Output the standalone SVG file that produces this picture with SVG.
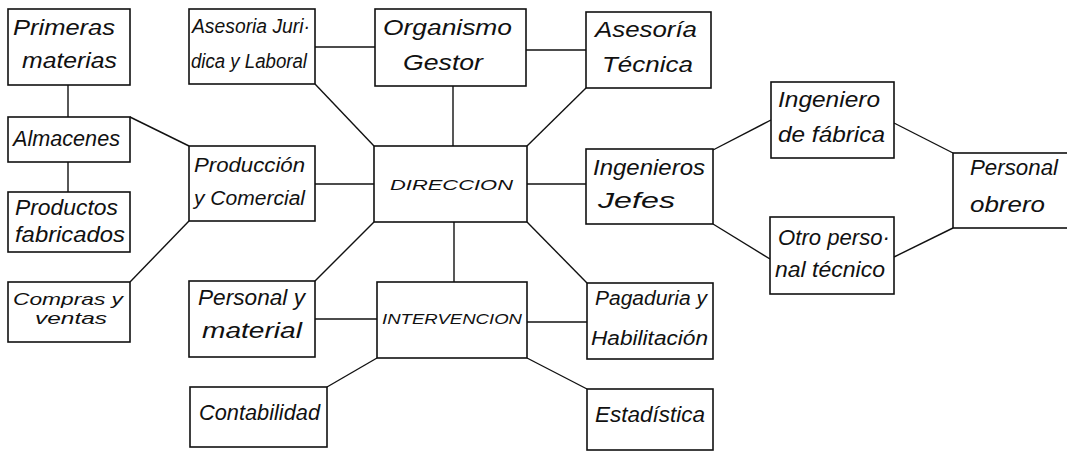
<svg xmlns="http://www.w3.org/2000/svg" width="1067" height="452" viewBox="0 0 1067 452">
<style>
.box{fill:#fff;stroke:#111;stroke-width:1.6}
.ln{fill:none;stroke:#111;stroke-width:1.4}
text{font-family:"Liberation Sans","DejaVu Sans",sans-serif;font-style:italic;fill:#111;font-size:22px}
.s{font-size:20px}
.t{font-size:17px}
.c{font-size:15px}
</style>
<rect width="1067" height="452" fill="#fff"/>
<g id="connectors">
<path class="ln" d="M68,85 V117 M68,162 V192"/>
<path class="ln" d="M130,117 L189,146"/>
<path class="ln" d="M189,221 L130,282"/>
<path class="ln" d="M315,184 H374"/>
<path class="ln" d="M315,47 H375"/>
<path class="ln" d="M526,50 H586"/>
<path class="ln" d="M315,84 L374,146"/>
<path class="ln" d="M586,88 L527,146"/>
<path class="ln" d="M453,86 V146"/>
<path class="ln" d="M527,184 H586"/>
<path class="ln" d="M374,222 L315,281"/>
<path class="ln" d="M527,222 L587,283"/>
<path class="ln" d="M454,222 V282"/>
<path class="ln" d="M315,319 H377"/>
<path class="ln" d="M527,322 H587"/>
<path class="ln" d="M377,358 L327,387"/>
<path class="ln" d="M527,358 L587,389"/>
<path class="ln" d="M713,150 L771,120"/>
<path class="ln" d="M894,123 L953,153"/>
<path class="ln" d="M713,224 L770,259"/>
<path class="ln" d="M894,257 L953,228"/>
</g>
<g id="primeras">
<rect class="box" x="8" y="9" width="122" height="76"/>
<text x="13" y="35" textLength="102" lengthAdjust="spacingAndGlyphs">Primeras</text>
<text x="22" y="68" textLength="95" lengthAdjust="spacingAndGlyphs">materias</text>
</g>
<g id="almacenes">
<rect class="box" x="8" y="117" width="122" height="45"/>
<text x="13" y="146" textLength="107" lengthAdjust="spacingAndGlyphs">Almacenes</text>
</g>
<g id="productos">
<rect class="box" x="8" y="192" width="122" height="60"/>
<text x="15" y="215" textLength="103" lengthAdjust="spacingAndGlyphs">Productos</text>
<text x="15" y="242" textLength="110" lengthAdjust="spacingAndGlyphs">fabricados</text>
</g>
<g id="compras">
<rect class="box" x="8" y="282" width="122" height="60"/>
<text class="t" x="13" y="305" textLength="110" lengthAdjust="spacingAndGlyphs">Compras y</text>
<text class="t" x="35" y="324" textLength="72" lengthAdjust="spacingAndGlyphs">ventas</text>
</g>
<g id="juridica">
<rect class="box" x="189" y="9" width="126" height="75"/>
<text class="s" x="192" y="33" textLength="118" lengthAdjust="spacingAndGlyphs">Asesoria Juri·</text>
<text class="s" x="191" y="68" textLength="116" lengthAdjust="spacingAndGlyphs">dica y Laboral</text>
</g>
<g id="organismo">
<rect class="box" x="375" y="9" width="151" height="77"/>
<text x="383" y="35" textLength="129" lengthAdjust="spacingAndGlyphs">Organismo</text>
<text x="403" y="70" textLength="80" lengthAdjust="spacingAndGlyphs">Gestor</text>
</g>
<g id="tecnica">
<rect class="box" x="586" y="12" width="125" height="76"/>
<text x="595" y="37" textLength="102" lengthAdjust="spacingAndGlyphs">Asesoría</text>
<text x="602" y="72" textLength="91" lengthAdjust="spacingAndGlyphs">Técnica</text>
</g>
<g id="produccion">
<rect class="box" x="189" y="146" width="126" height="75"/>
<text class="s" x="194" y="172" textLength="111" lengthAdjust="spacingAndGlyphs">Producción</text>
<text class="s" x="194" y="205" textLength="111" lengthAdjust="spacingAndGlyphs">y Comercial</text>
</g>
<g id="direccion">
<rect class="box" x="374" y="146" width="153" height="76"/>
<text class="c" x="390" y="190" textLength="123" lengthAdjust="spacingAndGlyphs">DIRECCION</text>
</g>
<g id="ingenieros">
<rect class="box" x="586" y="149" width="127" height="75"/>
<text x="593" y="175" textLength="112" lengthAdjust="spacingAndGlyphs">Ingenieros</text>
<text x="598" y="208" textLength="77" lengthAdjust="spacingAndGlyphs">Jefes</text>
</g>
<g id="fabrica">
<rect class="box" x="771" y="82" width="123" height="76"/>
<text x="778" y="107" textLength="102" lengthAdjust="spacingAndGlyphs">Ingeniero</text>
<text x="778" y="142" textLength="107" lengthAdjust="spacingAndGlyphs">de fábrica</text>
</g>
<g id="obrero">
<rect class="box" x="953" y="153" width="120" height="75"/>
<text x="970" y="175" textLength="88" lengthAdjust="spacingAndGlyphs">Personal</text>
<text x="970" y="212" textLength="75" lengthAdjust="spacingAndGlyphs">obrero</text>
</g>
<g id="otro">
<rect class="box" x="770" y="217" width="124" height="77"/>
<text x="778" y="245" textLength="112" lengthAdjust="spacingAndGlyphs">Otro perso·</text>
<text x="775" y="277" textLength="110" lengthAdjust="spacingAndGlyphs">nal técnico</text>
</g>
<g id="personal">
<rect class="box" x="189" y="281" width="126" height="76"/>
<text x="198" y="305" textLength="107" lengthAdjust="spacingAndGlyphs">Personal y</text>
<text x="202" y="338" textLength="100" lengthAdjust="spacingAndGlyphs">material</text>
</g>
<g id="intervencion">
<rect class="box" x="377" y="282" width="150" height="76"/>
<text class="c" x="382" y="324" textLength="140" lengthAdjust="spacingAndGlyphs">INTERVENCION</text>
</g>
<g id="pagaduria">
<rect class="box" x="587" y="283" width="126" height="76"/>
<text class="s" x="595" y="305" textLength="112" lengthAdjust="spacingAndGlyphs">Pagaduria y</text>
<text class="s" x="591" y="345" textLength="117" lengthAdjust="spacingAndGlyphs">Habilitación</text>
</g>
<g id="contabilidad">
<rect class="box" x="190" y="387" width="137" height="60"/>
<text x="199" y="420" textLength="121" lengthAdjust="spacingAndGlyphs">Contabilidad</text>
</g>
<g id="estadistica">
<rect class="box" x="587" y="389" width="126" height="61"/>
<text x="595" y="422" textLength="110" lengthAdjust="spacingAndGlyphs">Estadística</text>
</g>
</svg>
